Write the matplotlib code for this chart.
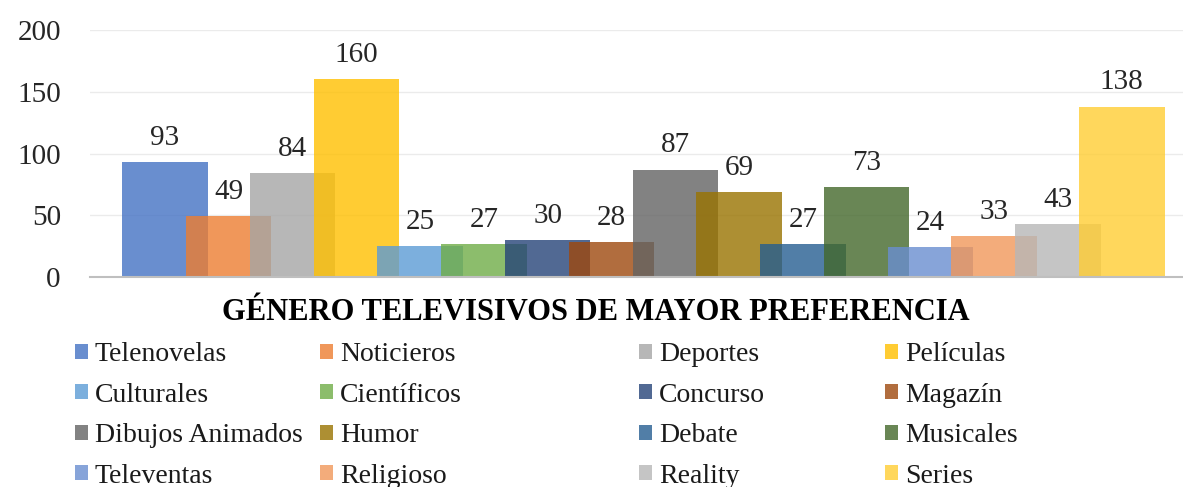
import matplotlib
matplotlib.use("Agg")
import matplotlib.pyplot as plt

generos = ["Telenovelas", "Noticieros", "Deportes", "Películas",
           "Culturales", "Científicos", "Concurso", "Magazín",
           "Dibujos Animados", "Humor", "Debate", "Musicales",
           "Televentas", "Religioso", "Reality", "Series"]
votos = [93, 49, 84, 160, 25, 27, 30, 28, 87, 69, 27, 73, 24, 33, 43, 138]
colores = ["#4472C4", "#ED7D31", "#A5A5A5", "#FFC000",
           "#5B9BD5", "#70AD47", "#264478", "#9E480E",
           "#636363", "#997300", "#255E91", "#43682B",
           "#698ED0", "#F1975A", "#B7B7B7", "#FFCD33"]
titulo = "GÉNERO TELEVISIVOS DE MAYOR PREFERENCIA"
yticks = [0, 50, 100, 150, 200]

plt.rcParams["font.family"] = ["Liberation Serif", "DejaVu Serif"]

W, H = 1183, 487
fig = plt.figure(figsize=(W / 100, H / 100), dpi=100)
ax = fig.add_axes([90 / W, 1 - 277 / H, 1 - 90 / W, (277 - 30) / H])

handles = []
for i, (g, v, c) in enumerate(zip(generos, votos, colores)):
    b = ax.bar(i, v, width=1.34, color=c, alpha=0.8, zorder=2 + i * 0.01,
               linewidth=0, label=g)
    handles.append(b[0])
    ax.annotate(str(v), (i, v), xytext=(0, 8), textcoords="offset points",
                ha="center", va="bottom", fontsize=21, color="#262626",
                zorder=10)

ax.set_xlim(-1.175, 15.96)
ax.set_ylim(0, 200)
ax.set_yticks(yticks)
ax.set_xticks([])
ax.tick_params(axis="y", length=0, pad=21, labelsize=21, labelcolor="#262626")
ax.grid(axis="y", color="#ebebeb", linewidth=1, zorder=0)
for s in ["top", "right", "left"]:
    ax.spines[s].set_visible(False)
ax.spines["bottom"].set_color("#bfbfbf")
ax.spines["bottom"].set_linewidth(1.5)
ax.spines["bottom"].set_zorder(5)

fig.text(596 / W, 1 - 313 / H, titulo, ha="center", va="center",
         fontsize=22, fontweight="bold", color="#000000")

# legend laid out row by row, one legend per column
col_x = [75, 320, 639, 885]
for c in range(4):
    idx = [r * 4 + c for r in range(4)]
    leg = fig.legend([handles[k] for k in idx], [generos[k] for k in idx],
                     loc="upper left", bbox_to_anchor=(col_x[c] / W, 1 - 342 / H),
                     frameon=False, fontsize=20, handlelength=0.46,
                     handleheight=0.46, handletextpad=0.25, labelspacing=0.56,
                     borderpad=0, borderaxespad=0)
    for t in leg.get_texts():
        t.set_color("#1a1a1a")

fig.savefig("out.png", dpi=100)
